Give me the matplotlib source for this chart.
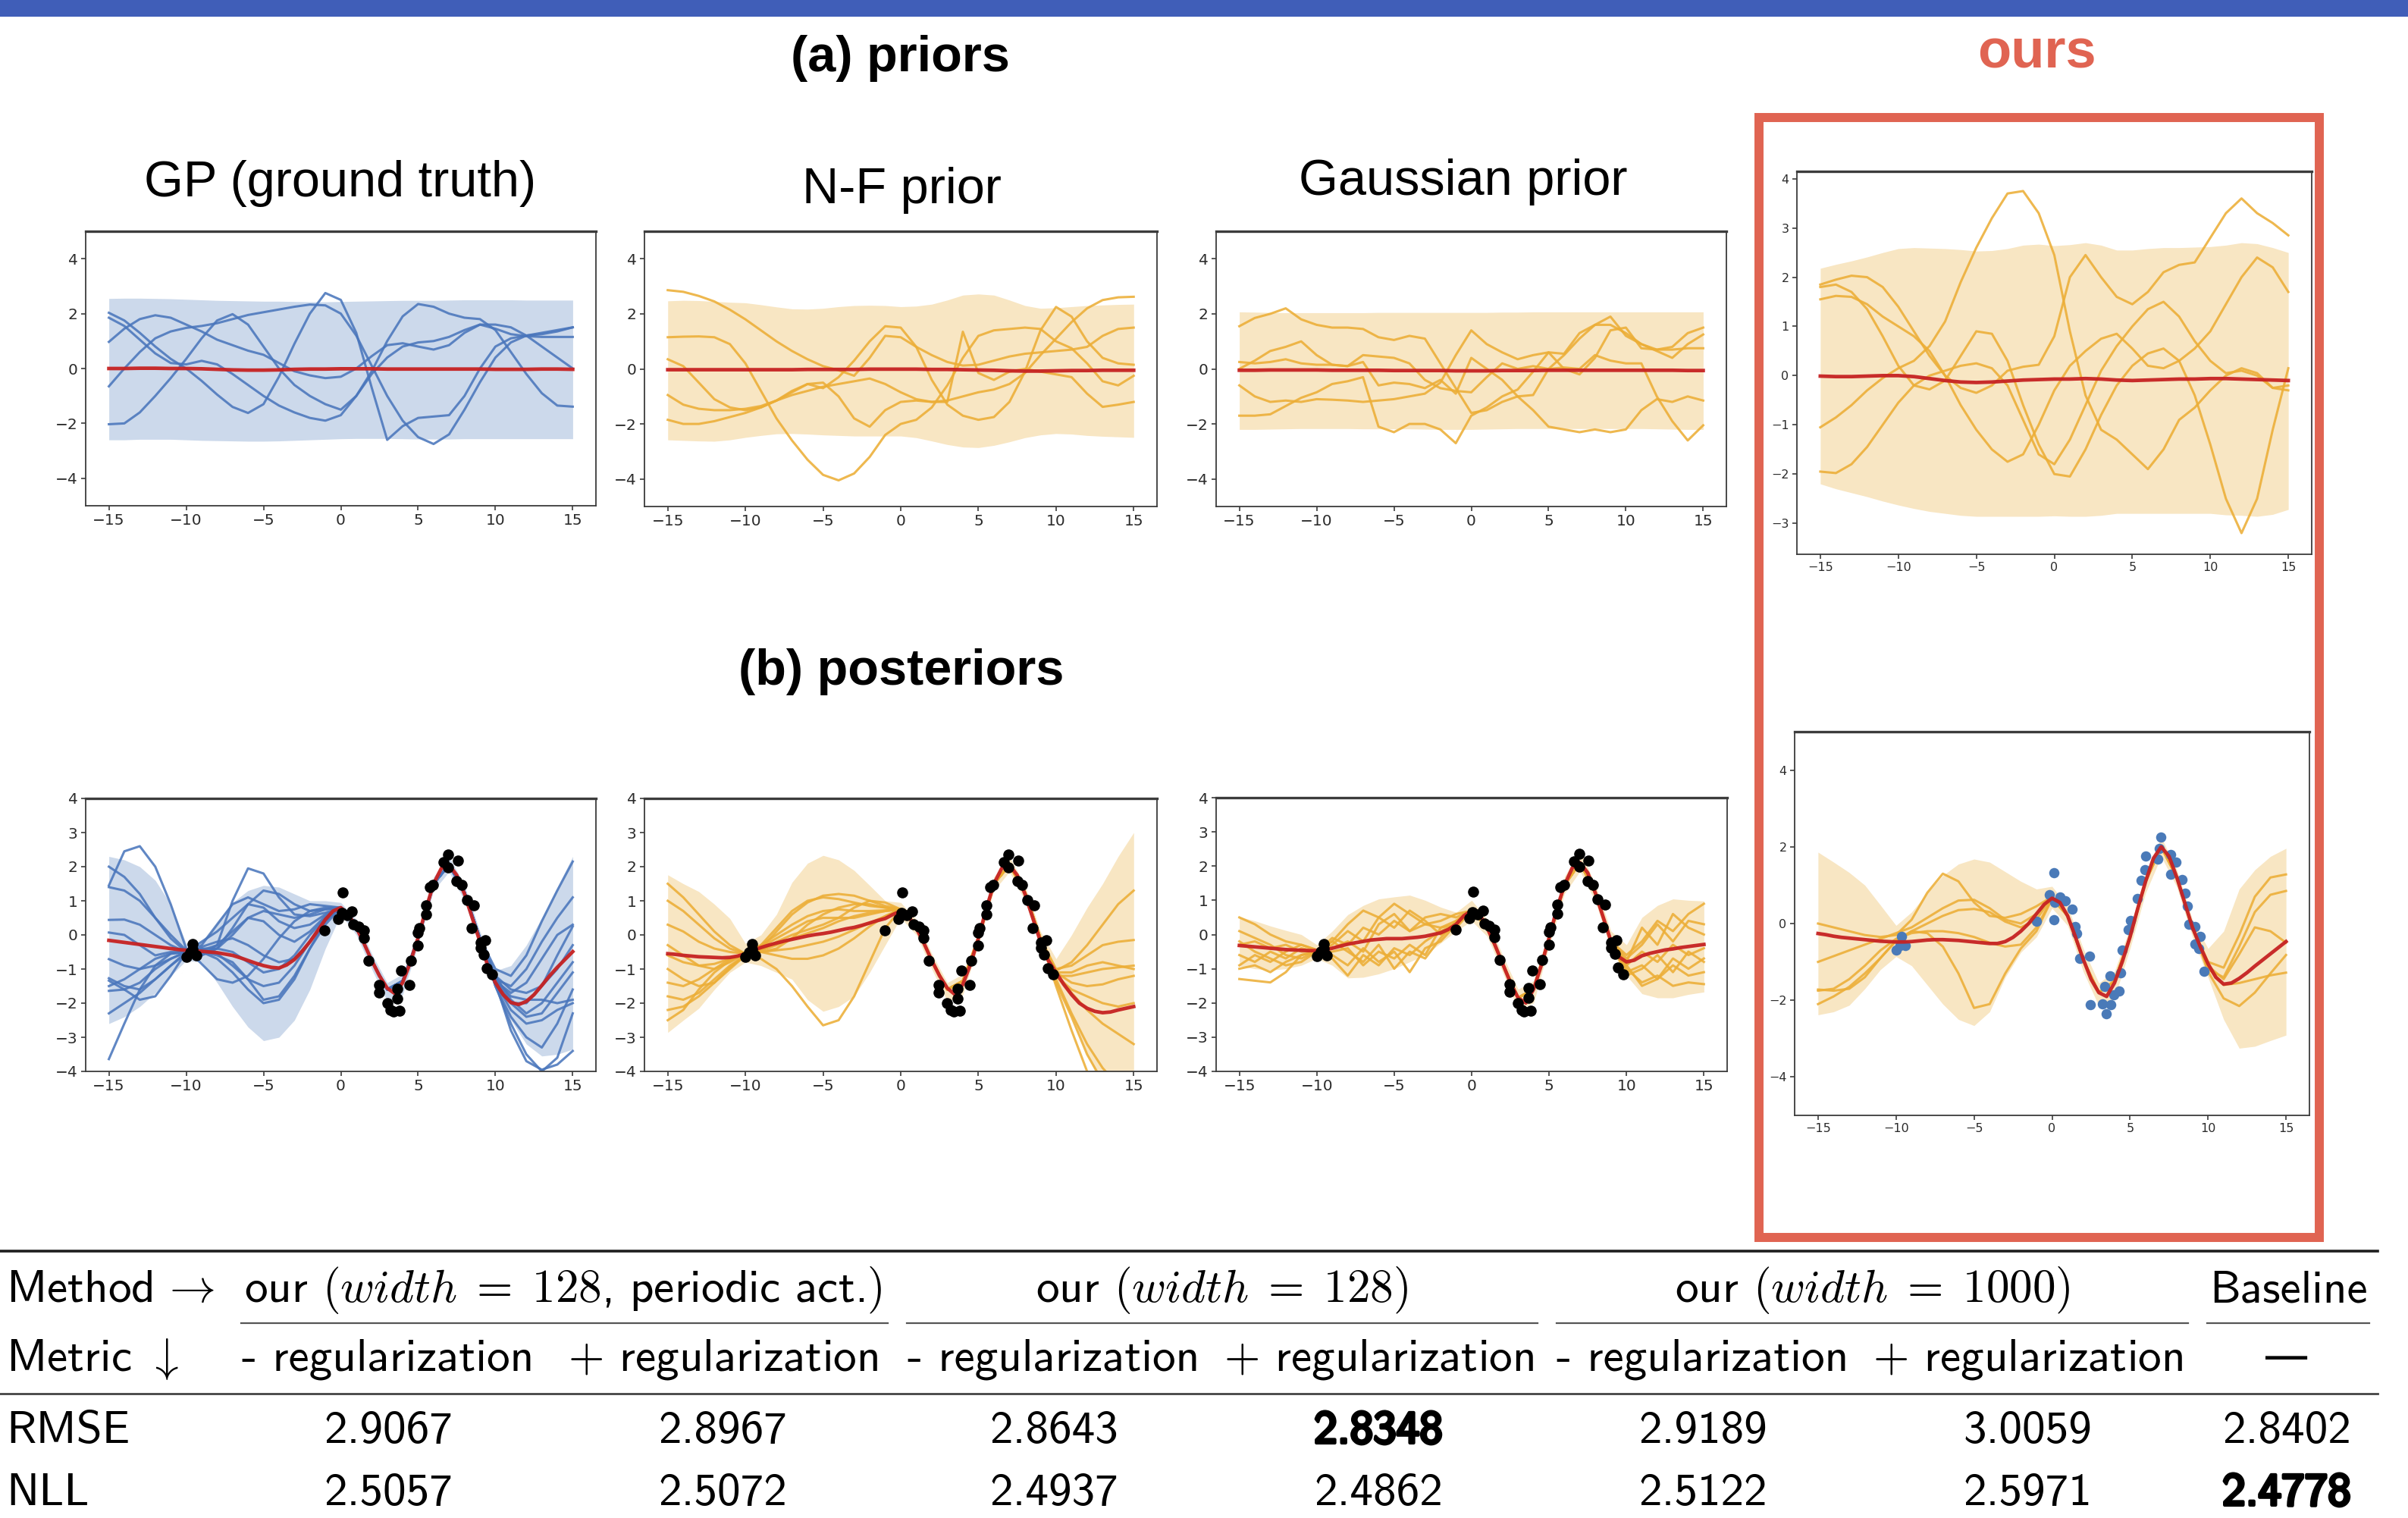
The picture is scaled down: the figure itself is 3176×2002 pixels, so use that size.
import matplotlib.pyplot as plt
import matplotlib.patheffects as pe
from matplotlib.lines import Line2D
from matplotlib.patches import Rectangle
import numpy as np

plt.rcParams['mathtext.fontset'] = 'cm'

# Canvas size in pixels
W, H = 3176, 2002

# x positions: samples / bands use a step of 1, posterior means a step of 0.5
x_grid = np.arange(-15, 16)
x_fine = np.arange(-15, 15.5, 0.5)

# ---------------- (a) priors ----------------
gp_prior_mean = [0.0, 0.0, 0.01, 0.01, 0.0, 0.0, -0.01, -0.03, -0.05, -0.06, -0.06, -0.05, -0.03, -0.02, -0.02, -0.01,
                 -0.01, -0.01, -0.02, -0.02, -0.02, -0.02, -0.02, -0.02, -0.02, -0.03, -0.03, -0.03, -0.02, -0.02, -0.03]
gp_prior_hi = [2.55, 2.56, 2.56, 2.55, 2.54, 2.52, 2.5, 2.48, 2.47, 2.46, 2.45, 2.45, 2.44, 2.43, 2.43, 2.44,
               2.45, 2.46, 2.47, 2.48, 2.48, 2.48, 2.49, 2.5, 2.5, 2.5, 2.5, 2.49, 2.49, 2.49, 2.49]
gp_prior_lo = [-2.6, -2.6, -2.58, -2.58, -2.58, -2.6, -2.62, -2.63, -2.64, -2.65, -2.65, -2.64, -2.62, -2.6, -2.58, -2.56,
               -2.55, -2.55, -2.55, -2.56, -2.57, -2.57, -2.57, -2.56, -2.56, -2.56, -2.56, -2.56, -2.56, -2.56, -2.56]
gp_prior_samples = [
    [2.03, 1.75, 1.3, 0.8, 0.35, 0.0, -0.45, -0.95, -1.4, -1.62, -1.3, -0.3, 0.9, 2.0, 2.75, 2.5,
     1.3, -0.7, -2.6, -2.1, -1.8, -1.75, -1.7, -1.0, 0.0, 0.8, 1.1, 1.2, 1.25, 1.35, 1.5],
    [1.85, 1.55, 1.05, 0.55, 0.2, 0.15, 0.28, 0.15, -0.2, -0.6, -1.0, -1.35, -1.6, -1.8, -1.9, -1.7,
     -1.0, -0.1, 1.0, 1.9, 2.35, 2.25, 2.0, 1.85, 1.8, 1.4, 0.6, -0.2, -0.9, -1.35, -1.39],
    [0.97, 1.45, 1.8, 1.94, 1.85, 1.6, 1.35, 1.05, 0.85, 0.65, 0.5, 0.2, -0.1, -0.25, -0.35, -0.3,
     0.0, 0.45, 0.85, 0.92, 0.8, 0.69, 0.85, 1.3, 1.6, 1.45, 1.25, 1.18, 1.15, 1.15, 1.15],
    [-0.65, 0.0, 0.6, 1.1, 1.35, 1.48, 1.55, 1.65, 1.8, 1.95, 2.05, 2.15, 2.25, 2.33, 2.3, 2.0,
     1.2, 0.1, -1.0, -1.9, -2.5, -2.75, -2.4, -1.5, -0.5, 0.4, 0.95, 1.2, 1.3, 1.4, 1.5],
    [-2.03, -2.0, -1.6, -1.0, -0.35, 0.35, 1.1, 1.75, 1.98, 1.6, 0.8, 0.0, -0.6, -1.0, -1.3, -1.5,
     -1.0, -0.2, 0.4, 0.8, 0.95, 1.0, 1.15, 1.4, 1.6, 1.6, 1.5, 1.2, 0.8, 0.4, 0.0],
]

nf_prior_mean = [-0.03, -0.03, -0.03, -0.03, -0.03, -0.03, -0.03, -0.03, -0.03, -0.02, -0.02, -0.02, -0.02, -0.01, -0.01, -0.01,
                 -0.01, -0.02, -0.02, -0.03, -0.04, -0.05, -0.07, -0.08, -0.08, -0.07, -0.06, -0.06, -0.05, -0.05, -0.05]
nf_prior_hi = [2.47, 2.49, 2.48, 2.45, 2.42, 2.4, 2.33, 2.25, 2.18, 2.17, 2.2, 2.26, 2.3, 2.31, 2.3, 2.26,
               2.28, 2.35, 2.5, 2.68, 2.72, 2.68, 2.5, 2.3, 2.2, 2.22, 2.26, 2.3, 2.32, 2.34, 2.35]
nf_prior_lo = [-2.58, -2.6, -2.62, -2.63, -2.58, -2.49, -2.42, -2.36, -2.35, -2.37, -2.4, -2.42, -2.44, -2.44, -2.44, -2.44,
               -2.5, -2.62, -2.75, -2.84, -2.86, -2.78, -2.65, -2.5, -2.4, -2.35, -2.37, -2.42, -2.45, -2.47, -2.49]
nf_prior_samples = [
    [2.86, 2.8, 2.65, 2.45, 2.15, 1.8, 1.4, 1.0, 0.65, 0.35, 0.1, -0.05, -0.25, 0.4, 1.2, 1.15,
     0.8, 0.5, 0.25, 0.12, 0.15, 0.3, 0.45, 0.55, 0.6, 0.65, 0.7, 0.8, 1.2, 1.45, 1.5],
    [1.15, 1.17, 1.18, 1.15, 0.9, 0.2, -0.8, -1.8, -2.6, -3.3, -3.85, -4.05, -3.8, -3.2, -2.4, -2.0,
     -1.85, -1.4, -0.6, 0.4, 1.2, 1.4, 1.45, 1.5, 1.45, 1.0, 0.75, 0.2, -0.45, -0.6, -0.25],
    [0.35, 0.1, -0.5, -1.1, -1.4, -1.5, -1.4, -1.15, -0.8, -0.55, -0.5, -1.0, -1.8, -2.1, -1.5, -1.2,
     -1.15, -1.2, -1.2, 1.35, -0.15, -0.4, -0.1, 0.0, -0.1, -0.2, -0.3, -0.9, -1.38, -1.3, -1.2],
    [-0.95, -1.3, -1.45, -1.5, -1.5, -1.45, -1.35, -1.15, -0.95, -0.8, -0.65, -0.55, -0.45, -0.35, -0.55, -0.85,
     -1.1, -1.2, -1.15, -1.0, -0.85, -0.75, -0.55, -0.15, 0.5, 1.1, 1.7, 2.2, 2.5, 2.6, 2.62],
    [-1.85, -2.0, -2.0, -1.9, -1.75, -1.6, -1.4, -1.15, -0.85, -0.55, -0.7, -0.3, 0.3, 1.0, 1.55, 1.5,
     0.8, -0.4, -1.3, -1.7, -1.85, -1.75, -1.2, -0.1, 1.4, 2.25, 1.9, 1.0, 0.4, 0.2, 0.15],
]

gauss_prior_mean = [-0.05, -0.05, -0.04, -0.04, -0.04, -0.04, -0.05, -0.05, -0.05, -0.05, -0.06, -0.06, -0.06, -0.06, -0.07, -0.07,
                    -0.07, -0.06, -0.06, -0.06, -0.05, -0.05, -0.05, -0.05, -0.05, -0.05, -0.05, -0.05, -0.05, -0.06, -0.06]
gauss_prior_hi = [2.07, 2.06, 2.05, 2.04, 2.04, 2.04, 2.04, 2.04, 2.04, 2.05, 2.05, 2.05, 2.05, 2.05, 2.05, 2.05,
                  2.05, 2.06, 2.06, 2.07, 2.07, 2.07, 2.07, 2.07, 2.07, 2.07, 2.07, 2.07, 2.07, 2.07, 2.07]
gauss_prior_lo = [-2.2, -2.2, -2.19, -2.18, -2.17, -2.17, -2.17, -2.17, -2.18, -2.18, -2.18, -2.18, -2.19, -2.2, -2.2, -2.2,
                  -2.19, -2.18, -2.17, -2.17, -2.17, -2.17, -2.17, -2.17, -2.17, -2.17, -2.17, -2.18, -2.19, -2.2, -2.2]
gauss_prior_samples = [
    [1.55, 1.85, 2.0, 2.2, 1.8, 1.6, 1.5, 1.5, 1.45, 1.15, 1.05, 1.2, 1.1, 0.2, -0.7, -1.6,
     -1.5, -1.2, -1.0, -0.95, 0.0, 0.5, 1.1, 1.6, 1.9, 1.2, 0.9, 0.65, 0.4, 0.9, 1.25],
    [0.25, 0.2, 0.25, 0.35, 0.2, 0.15, 0.15, 0.1, 0.5, 0.45, 0.4, 0.2, -0.4, -0.7, -0.8, -0.85,
     -0.3, 0.2, 0.0, 0.1, 0.0, 0.05, 0.0, 0.5, 0.3, 0.2, 0.2, -1.0, -1.9, -2.6, -2.05],
    [-0.6, -1.0, -1.2, -1.15, -1.2, -1.1, -1.12, -1.15, -1.2, -1.15, -1.1, -1.0, -0.9, -0.5, 0.5, 1.4,
     0.9, 0.6, 0.35, 0.5, 0.6, 0.55, 1.3, 1.6, 1.6, 1.3, 0.9, 0.7, 0.8, 1.3, 1.5],
    [-1.7, -1.7, -1.65, -1.35, -1.05, -0.85, -0.55, -0.45, -0.3, -2.1, -2.3, -2.0, -2.0, -2.2, -2.7, -1.7,
     -1.4, -1.0, -0.75, -0.1, 0.6, 0.0, -0.2, 0.4, 1.4, 1.5, 0.75, 0.7, 0.7, 0.75, 0.75],
    [0.0, 0.3, 0.65, 0.8, 1.0, 0.5, 0.15, 0.1, 0.25, -0.6, -0.5, -0.55, -0.7, -0.4, -0.9, 0.4,
     0.0, -0.4, -1.0, -1.5, -2.1, -2.2, -2.3, -2.2, -2.3, -2.2, -1.5, -1.1, -1.2, -1.0, -1.15],
]

ours_prior_mean = [-0.01, -0.02, -0.02, -0.01, 0.0, 0.0, -0.02, -0.06, -0.1, -0.13, -0.14, -0.13, -0.11, -0.09, -0.08, -0.07,
                   -0.07, -0.06, -0.07, -0.09, -0.1, -0.09, -0.08, -0.07, -0.07, -0.06, -0.06, -0.07, -0.08, -0.09, -0.1]
ours_prior_hi = [2.18, 2.26, 2.33, 2.41, 2.5, 2.58, 2.6, 2.59, 2.58, 2.56, 2.53, 2.54, 2.58, 2.65, 2.67, 2.64,
                 2.66, 2.7, 2.65, 2.55, 2.55, 2.58, 2.6, 2.6, 2.61, 2.62, 2.65, 2.7, 2.68, 2.6, 2.5]
ours_prior_lo = [-2.2, -2.3, -2.38, -2.46, -2.55, -2.63, -2.7, -2.76, -2.8, -2.84, -2.86, -2.86, -2.86, -2.86, -2.86, -2.85,
                 -2.86, -2.86, -2.84, -2.8, -2.8, -2.8, -2.8, -2.8, -2.8, -2.8, -2.83, -2.84, -2.86, -2.82, -2.72]
ours_prior_samples = [
    [-1.05, -0.85, -0.6, -0.3, -0.05, 0.15, 0.3, 0.6, 1.1, 1.9, 2.6, 3.2, 3.7, 3.75, 3.3, 2.45,
     0.9, -0.4, -1.1, -1.3, -1.6, -1.9, -1.5, -0.9, -0.65, -0.3, 0.0, 0.15, 0.05, -0.25, -0.2],
    [1.85, 1.95, 2.03, 2.0, 1.8, 1.4, 0.9, 0.4, 0.0, -0.25, -0.35, -0.2, 0.1, 0.18, 0.22, 0.8,
     2.0, 2.45, 2.0, 1.6, 1.45, 1.7, 2.1, 2.25, 2.3, 2.8, 3.3, 3.6, 3.3, 3.1, 2.85],
    [1.8, 1.85, 1.7, 1.35, 0.8, 0.2, -0.2, -0.28, -0.1, 0.4, 0.9, 0.85, 0.3, -0.6, -1.4, -2.0,
     -2.05, -1.5, -0.8, -0.2, 0.2, 0.45, 0.55, 0.3, -0.4, -1.4, -2.5, -3.2, -2.5, -1.1, 0.15],
    [1.55, 1.62, 1.6, 1.45, 1.2, 1.0, 0.8, 0.5, 0.0, -0.6, -1.1, -1.5, -1.75, -1.6, -1.0, -0.3,
     0.2, 0.5, 0.75, 0.85, 0.55, 0.2, 0.15, 0.3, 0.55, 0.9, 1.45, 2.0, 2.4, 2.2, 1.7],
    [-1.95, -1.98, -1.8, -1.45, -1.0, -0.55, -0.2, 0.0, 0.1, 0.2, 0.25, 0.15, -0.2, -0.9, -1.6, -1.8,
     -1.3, -0.6, 0.1, 0.6, 1.0, 1.35, 1.5, 1.2, 0.7, 0.3, 0.05, 0.1, 0.0, -0.25, -0.3],
]

# ---------------- (b) posteriors ----------------
# observed points (black) shared by the first three posterior panels
obs_x = [-10.0, -9.57, -9.57, -9.35, -9.75, -1.04, 0.12, -0.16, 0.06, 0.4, 0.71, 0.82, 1.15, 1.48, 1.48, 1.8,
         2.46, 2.46, 3.0, 3.23, 3.67, 3.67, 3.9, 3.8, 4.43, 4.54, 4.98, 4.98, 5.09, 5.53, 5.53, 5.74,
         5.96, 6.62, 6.95, 6.95, 7.56, 7.5, 7.83, 8.15, 8.6, 8.48, 9.03, 9.36, 9.03, 9.25, 9.46, 9.79, 3.4]
obs_y = [-0.64, -0.27, -0.42, -0.6, -0.5, 0.14, 1.25, 0.47, 0.65, 0.58, 0.69, 0.32, 0.25, 0.14, -0.08, -0.75,
         -1.46, -1.68, -2.0, -2.2, -1.57, -1.86, -1.05, -2.23, -1.46, -0.75, -0.31, 0.07, 0.21, 0.61, 0.87, 1.39,
         1.46, 2.13, 2.35, 1.98, 2.17, 1.57, 1.46, 1.02, 0.87, 0.21, -0.23, -0.16, -0.38, -0.57, -0.97, -1.16, -2.25]
# observed points (blue) in our posterior panel
ours_obs_x = [-10.0, -9.64, -9.4, -9.76, -1.0, 0.12, 0.12, -0.19, 0.17, 0.52, 0.83, 1.28, 1.47, 1.58, 1.75, 2.41,
              2.46, 3.24, 3.4, 3.47, 3.71, 3.78, 3.95, 4.3, 4.42, 4.49, 4.89, 5.01, 5.48, 5.72, 5.95, 6.0,
              6.78, 6.97, 6.9, 7.6, 7.96, 7.6, 8.32, 8.55, 8.67, 8.79, 9.14, 9.5, 9.14, 9.38, 9.73]
ours_obs_y = [-0.69, -0.33, -0.58, -0.58, 0.06, 1.33, 0.09, 0.76, 0.55, 0.69, 0.59, 0.37, -0.08, -0.26, -0.9, -0.85,
              -2.12, -2.1, -1.64, -2.35, -1.36, -2.12, -1.85, -1.75, -1.29, -0.69, -0.16, 0.07, 0.66, 1.12, 1.4, 1.75,
              1.68, 2.25, 1.96, 1.79, 1.61, 1.29, 1.15, 0.8, 0.45, -0.01, -0.08, -0.33, -0.54, -0.65, -1.25]

gp_post_mean = [-0.16, -0.19, -0.22, -0.25, -0.28, -0.31, -0.34, -0.37, -0.4, -0.43,
                -0.45, -0.47, -0.48, -0.5, -0.52, -0.56, -0.6, -0.67, -0.75, -0.83,
                -0.9, -0.95, -0.97, -0.88, -0.72, -0.48, -0.2, 0.12, 0.45, 0.7,
                0.8, 0.6, 0.22, -0.25, -0.75, -1.2, -1.56, -1.72, -1.4, -0.8,
                -0.08, 0.75, 1.5, 1.95, 2.05, 1.75, 1.2, 0.5, -0.2, -0.9,
                -1.4, -1.75, -1.98, -2.04, -1.95, -1.75, -1.48, -1.2, -0.95, -0.72, -0.49]
gp_post_hi = [2.3, 2.2, 2.0, 1.6, 0.9, -0.25, -0.2, 0.4, 0.95, 1.3, 1.45, 1.4, 1.2, 1.0, 1.0, 0.95,
              0.45, -0.55, -1.4, -1.15, 0.1, 1.7, 2.3, 1.45, 0.1, -1.05, -0.9, -0.3, 0.5, 1.4, 2.3]
gp_post_lo = [-2.6, -2.4, -2.1, -1.7, -1.2, -0.75, -0.8, -1.4, -2.1, -2.7, -3.1, -3.0, -2.5, -1.6, -0.4, 0.6,
              0.0, -1.0, -1.95, -1.75, -0.3, 1.3, 1.85, 1.0, -0.35, -1.6, -2.5, -3.2, -3.55, -3.5, -3.35]
gp_post_samples = [
    [-3.64, -2.6, -1.6, -0.9, -0.55, -0.5, -0.3, 0.3, 0.9, 1.1, 0.9, 0.7, 0.75, 0.9, 0.85, 0.8,
     0.25, -0.75, -1.6, -1.35, -0.1, 1.5, 2.05, 1.25, -0.1, -1.4, -2.8, -3.7, -3.95, -3.8, -3.4],
    [1.45, 2.45, 2.6, 2.0, 0.9, -0.4, -0.85, -1.3, -1.4, -1.2, -0.7, -0.1, 0.4, 0.7, 0.75, 0.8,
     0.25, -0.75, -1.6, -1.35, -0.1, 1.5, 2.05, 1.25, -0.1, -1.0, -1.2, -0.6, 0.4, 1.3, 2.15],
    [2.0, 1.7, 1.2, 0.5, -0.1, -0.5, -0.6, -0.3, 1.0, 1.95, 1.8, 1.1, 0.6, 0.55, 0.65, 0.8,
     0.25, -0.75, -1.6, -1.35, -0.1, 1.5, 2.05, 1.25, -0.1, -1.2, -1.9, -2.3, -2.0, -1.4, -0.8],
    [1.4, 1.3, 1.0, 0.5, 0.0, -0.45, -0.6, -0.4, 0.2, 0.9, 1.3, 1.2, 0.9, 0.7, 0.8, 0.8,
     0.25, -0.75, -1.6, -1.35, -0.1, 1.5, 2.05, 1.25, -0.1, -1.3, -1.5, -1.0, -0.2, 0.5, 1.1],
    [0.44, 0.45, 0.3, 0.0, -0.3, -0.5, -0.55, -0.4, 0.0, 0.5, 0.7, 0.6, 0.5, 0.6, 0.75, 0.8,
     0.25, -0.75, -1.6, -1.35, -0.1, 1.5, 2.05, 1.25, -0.1, -1.4, -2.2, -2.6, -2.5, -2.2, -2.0],
    [0.07, 0.0, -0.3, -0.6, -0.5, -0.5, -0.5, -0.6, -0.8, -1.3, -1.9, -1.8, -1.2, -0.4, 0.3, 0.8,
     0.25, -0.75, -1.6, -1.35, -0.1, 1.5, 2.05, 1.25, -0.1, -1.2, -1.6, -1.7, -1.5, -1.0, -0.3],
    [-0.71, -0.9, -1.0, -0.9, -0.7, -0.5, -0.5, -0.7, -1.1, -1.6, -2.0, -1.9, -1.3, -0.4, 0.4, 0.8,
     0.25, -0.75, -1.6, -1.35, -0.1, 1.5, 2.05, 1.25, -0.1, -1.5, -2.4, -3.0, -3.3, -2.6, -1.6],
    [-1.27, -1.5, -1.6, -1.3, -0.9, -0.5, -0.4, -0.55, -0.9, -1.3, -1.5, -1.4, -0.9, -0.2, 0.5, 0.8,
     0.25, -0.75, -1.6, -1.35, -0.1, 1.5, 2.05, 1.25, -0.1, -1.35, -1.7, -1.4, -0.7, 0.0, 0.3],
    [-1.34, -1.6, -1.9, -1.8, -1.2, -0.5, -0.2, 0.1, 0.5, 0.9, 0.8, 0.4, 0.2, 0.3, 0.6, 0.8,
     0.25, -0.75, -1.6, -1.35, -0.1, 1.5, 2.05, 1.25, -0.1, -1.3, -2.0, -2.4, -2.3, -1.7, -1.1],
    [-1.64, -1.6, -1.4, -1.0, -0.7, -0.5, -0.35, -0.2, -0.1, -0.3, -0.6, -0.8, -0.7, -0.2, 0.4, 0.8,
     0.25, -0.75, -1.6, -1.35, -0.1, 1.5, 2.05, 1.25, -0.1, -1.4, -2.0, -2.0, -1.5, -0.6, 0.25],
    [-2.3, -2.0, -1.7, -1.3, -0.9, -0.55, -0.4, -0.4, -0.5, -0.8, -1.1, -1.0, -0.6, 0.0, 0.5, 0.8,
     0.25, -0.75, -1.6, -1.35, -0.1, 1.5, 2.05, 1.25, -0.1, -1.5, -2.6, -3.5, -4.0, -3.6, -2.3],
    [-1.5, -1.3, -1.0, -0.7, -0.55, -0.5, -0.45, -0.3, 0.1, 0.5, 0.4, 0.0, -0.2, 0.1, 0.55, 0.8,
     0.25, -0.75, -1.6, -1.35, -0.1, 1.5, 2.05, 1.25, -0.1, -1.3, -1.8, -1.9, -1.9, -2.0, -1.9],
]

nf_post_mean = [-0.55, -0.57, -0.6, -0.62, -0.64, -0.65, -0.66, -0.67, -0.66, -0.62,
                -0.55, -0.45, -0.37, -0.3, -0.24, -0.18, -0.13, -0.08, -0.03, 0.01,
                0.04, 0.08, 0.13, 0.18, 0.22, 0.28, 0.35, 0.42, 0.48, 0.6,
                0.7, 0.55, 0.2, -0.25, -0.75, -1.2, -1.56, -1.75, -1.45, -0.85,
                -0.1, 0.75, 1.5, 1.95, 2.05, 1.75, 1.2, 0.5, -0.2, -0.75,
                -1.1, -1.45, -1.75, -2.0, -2.15, -2.24, -2.28, -2.26, -2.2, -2.15, -2.1]
nf_post_hi = [1.76, 1.5, 1.27, 0.9, 0.48, -0.25, 0.0, 0.6, 1.54, 2.1, 2.33, 2.2, 1.89, 1.45, 1.0, 0.95,
              0.45, -0.55, -1.4, -1.15, 0.1, 1.7, 2.3, 1.45, 0.1, -0.7, 0.0, 0.8, 1.5, 2.3, 3.0]
nf_post_lo = [-2.86, -2.5, -2.15, -1.6, -1.1, -0.8, -0.9, -1.1, -1.3, -1.9, -2.24, -2.1, -1.8, -1.1, -0.3, 0.5,
              0.0, -1.0, -1.95, -1.75, -0.3, 1.3, 1.85, 1.0, -0.35, -1.3, -2.3, -3.5, -4.5, -5.0, -5.0]
nf_post_samples = [
    [1.5, 1.1, 0.6, 0.1, -0.3, -0.55, -0.4, 0.1, 0.6, 0.95, 1.15, 1.2, 1.15, 1.0, 0.85, 0.75,
     0.25, -0.75, -1.6, -1.35, -0.1, 1.5, 2.05, 1.25, -0.1, -1.05, -0.8, -0.3, 0.3, 0.9, 1.3],
    [0.3, 0.1, -0.2, -0.4, -0.5, -0.55, -0.3, 0.2, 0.7, 1.0, 1.1, 1.05, 0.95, 0.85, 0.8, 0.75,
     0.25, -0.75, -1.6, -1.35, -0.1, 1.5, 2.05, 1.25, -0.1, -1.1, -1.1, -0.9, -0.8, -0.9, -1.0],
    [-0.3, -0.6, -0.9, -1.0, -0.8, -0.55, -0.3, 0.0, 0.3, 0.55, 0.7, 0.75, 0.7, 0.7, 0.72, 0.75,
     0.25, -0.75, -1.6, -1.35, -0.1, 1.5, 2.05, 1.25, -0.1, -1.1, -1.4, -1.5, -1.45, -1.3, -1.2],
    [-1.0, -1.3, -1.5, -1.4, -1.0, -0.6, -0.5, -0.45, -0.4, -0.3, -0.2, -0.05, 0.15, 0.35, 0.55, 0.75,
     0.25, -0.75, -1.6, -1.35, -0.1, 1.5, 2.05, 1.25, -0.1, -1.3, -2.3, -3.2, -3.9, -4.4, -4.6],
    [-1.8, -1.9, -1.7, -1.3, -0.9, -0.6, -0.7, -1.0, -1.5, -2.1, -2.65, -2.5, -1.8, -0.8, 0.2, 0.75,
     0.25, -0.75, -1.6, -1.35, -0.1, 1.5, 2.05, 1.25, -0.1, -1.2, -1.6, -1.8, -2.0, -2.1, -2.0],
    [-2.2, -2.1, -1.8, -1.4, -0.95, -0.6, -0.5, -0.6, -0.7, -0.7, -0.6, -0.4, -0.1, 0.25, 0.55, 0.75,
     0.25, -0.75, -1.6, -1.35, -0.1, 1.5, 2.05, 1.25, -0.1, -1.5, -2.8, -4.0, -4.8, -5.0, -5.0],
    [-2.5, -2.2, -1.6, -1.1, -0.75, -0.55, -0.35, -0.1, 0.15, 0.4, 0.5, 0.5, 0.5, 0.6, 0.7, 0.75,
     0.25, -0.75, -1.6, -1.35, -0.1, 1.5, 2.05, 1.25, -0.1, -1.2, -1.7, -2.2, -2.6, -2.9, -3.2],
    [-0.6, -0.8, -0.9, -0.85, -0.7, -0.55, -0.45, -0.3, -0.1, 0.05, 0.2, 0.4, 0.55, 0.65, 0.7, 0.75,
     0.25, -0.75, -1.6, -1.35, -0.1, 1.5, 2.05, 1.25, -0.1, -1.0, -0.9, -0.6, -0.3, -0.2, -0.15],
    [-1.4, -1.5, -1.3, -1.0, -0.7, -0.55, -0.5, -0.4, -0.1, 0.3, 0.6, 0.8, 0.9, 0.9, 0.8, 0.75,
     0.25, -0.75, -1.6, -1.35, -0.1, 1.5, 2.05, 1.25, -0.1, -1.4, -2.4, -3.5, -4.3, -4.6, -4.7],
    [1.0, 0.7, 0.3, -0.1, -0.4, -0.55, -0.45, -0.2, 0.0, 0.15, 0.3, 0.5, 0.8, 1.0, 0.95, 0.75,
     0.25, -0.75, -1.6, -1.35, -0.1, 1.5, 2.05, 1.25, -0.1, -1.2, -1.2, -1.1, -1.0, -0.95, -0.9],
]

gauss_post_mean = [-0.32, -0.34, -0.36, -0.38, -0.4, -0.42, -0.44, -0.45, -0.46, -0.47,
                   -0.47, -0.45, -0.4, -0.34, -0.28, -0.24, -0.2, -0.16, -0.14, -0.12,
                   -0.12, -0.12, -0.1, -0.08, -0.05, 0.0, 0.05, 0.15, 0.3, 0.55,
                   0.7, 0.6, 0.2, -0.3, -0.85, -1.4, -1.85, -2.0, -1.6, -0.9,
                   -0.1, 0.75, 1.45, 1.95, 2.1, 1.8, 1.2, 0.5, -0.2, -0.65,
                   -0.8, -0.75, -0.62, -0.55, -0.5, -0.45, -0.42, -0.38, -0.35, -0.32, -0.29]
gauss_post_hi = [0.52, 0.4, 0.25, 0.12, 0.0, -0.3, 0.1, 0.58, 0.85, 1.04, 1.1, 1.15, 1.0, 0.8, 0.65, 1.0,
                 0.45, -0.6, -1.6, -1.35, 0.1, 1.7, 2.45, 1.45, 0.1, -0.3, 0.5, 0.85, 1.04, 1.0, 0.98]
gauss_post_lo = [-0.92, -1.0, -1.04, -1.0, -0.9, -0.7, -0.9, -1.27, -1.25, -1.15, -1.0, -0.8, -0.6, -0.25, 0.1, 0.4,
                 -0.05, -1.1, -2.2, -2.0, -0.35, 1.2, 1.85, 0.95, -0.45, -1.2, -1.73, -1.85, -1.85, -1.75, -1.68]
gauss_post_samples = [
    [0.5, 0.3, 0.0, -0.2, -0.3, -0.45, -0.2, 0.3, 0.7, 0.5, 0.9, 0.6, 0.3, 0.4, 0.6, 0.7,
     0.2, -0.85, -1.85, -1.6, -0.1, 1.45, 2.1, 1.2, -0.2, -0.6, -0.2, 0.4, 0.1, 0.6, 0.9],
    [-0.3, -0.2, -0.4, -0.3, -0.5, -0.5, -0.1, -0.3, 0.2, 0.0, 0.4, 0.1, 0.3, 0.2, 0.4, 0.7,
     0.2, -0.85, -1.85, -1.6, -0.1, 1.45, 2.1, 1.2, -0.2, -0.9, -0.5, -0.8, -0.3, -0.6, -0.4],
    [-1.3, -1.35, -1.4, -1.1, -0.6, -0.5, -0.7, -1.2, -0.6, -0.9, -0.4, -0.6, -0.2, 0.1, 0.3, 0.7,
     0.2, -0.85, -1.85, -1.6, -0.1, 1.45, 2.1, 1.2, -0.2, -1.0, -1.4, -1.2, -1.5, -1.4, -1.45],
    [-0.6, -0.8, -0.5, -0.7, -0.4, -0.5, -0.3, 0.1, -0.2, 0.5, 0.2, 0.7, 0.4, 0.0, 0.2, 0.7,
     0.2, -0.85, -1.85, -1.6, -0.1, 1.45, 2.1, 1.2, -0.2, -0.8, 0.2, -0.3, 0.6, 0.2, 0.0],
    [0.1, -0.1, -0.3, -0.6, -0.7, -0.5, -0.6, -0.9, -0.4, -0.8, -0.5, -1.1, -0.4, -0.2, 0.3, 0.7,
     0.2, -0.85, -1.85, -1.6, -0.1, 1.45, 2.1, 1.2, -0.2, -1.1, -0.9, -1.3, -0.7, -1.0, -0.7],
    [-0.9, -0.6, -0.8, -0.5, -0.3, -0.45, -0.4, -0.2, -0.5, 0.3, 0.6, 0.1, 0.5, 0.6, 0.5, 0.7,
     0.2, -0.85, -1.85, -1.6, -0.1, 1.45, 2.1, 1.2, -0.2, -0.7, -0.3, 0.3, -0.2, 0.4, 0.3],
    [-0.2, -0.5, -0.7, -0.9, -0.8, -0.5, -0.2, -0.5, -0.8, -0.3, -1.0, -0.5, -0.7, -0.1, 0.4, 0.7,
     0.2, -0.85, -1.85, -1.6, -0.1, 1.45, 2.1, 1.2, -0.2, -1.2, -1.0, -0.6, -1.1, -0.5, -0.8],
    [-1.0, -0.9, -1.1, -0.8, -0.6, -0.5, -0.5, -0.4, -0.9, -0.5, -0.7, -0.3, -0.6, 0.2, 0.3, 0.7,
     0.2, -0.85, -1.85, -1.6, -0.1, 1.45, 2.1, 1.2, -0.2, -0.9, -1.5, -1.3, -0.9, -1.2, -1.1],
]

ours_post_mean = [-0.26, -0.29, -0.33, -0.36, -0.38, -0.4, -0.42, -0.44, -0.46, -0.47,
                  -0.48, -0.48, -0.47, -0.45, -0.43, -0.42, -0.42, -0.43, -0.44, -0.46,
                  -0.48, -0.5, -0.52, -0.52, -0.47, -0.36, -0.2, 0.0, 0.25, 0.5,
                  0.66, 0.55, 0.2, -0.35, -0.93, -1.45, -1.8, -1.9, -1.55, -1.0,
                  -0.35, 0.4, 1.1, 1.7, 2.0, 1.75, 1.2, 0.55, -0.1, -0.6,
                  -1.05, -1.4, -1.58, -1.55, -1.43, -1.28, -1.11, -0.95, -0.79, -0.63, -0.47]
ours_post_hi = [1.86, 1.6, 1.33, 1.0, 0.48, -0.05, 0.3, 0.8, 1.25, 1.55, 1.68, 1.6, 1.35, 1.1, 0.9, 0.97,
                0.45, -0.65, -1.55, -1.25, -0.1, 1.3, 2.25, 1.4, 0.1, -0.65, -0.2, 0.9, 1.4, 1.75, 1.96]
ours_post_lo = [-2.38, -2.3, -2.13, -1.7, -1.2, -0.86, -1.1, -1.6, -2.1, -2.5, -2.66, -2.3, -1.4, -0.75, -0.35, 0.4,
                -0.05, -1.25, -2.15, -1.95, -0.65, 0.8, 1.75, 0.95, -0.35, -1.4, -2.5, -3.25, -3.2, -3.05, -2.91]
ours_post_samples = [
    [0.0, -0.1, -0.2, -0.3, -0.35, -0.3, 0.1, 0.8, 1.3, 1.1, 0.55, 0.2, 0.15, 0.25, 0.45, 0.7,
     0.2, -0.95, -1.8, -1.5, -0.35, 1.1, 2.0, 1.2, -0.1, -1.0, -1.15, -0.3, 0.7, 1.2, 1.28],
    [-1.0, -0.85, -0.7, -0.55, -0.4, -0.25, -0.1, 0.15, 0.4, 0.6, 0.62, 0.4, 0.1, 0.0, 0.25, 0.7,
     0.2, -0.95, -1.8, -1.5, -0.35, 1.1, 2.0, 1.2, -0.1, -1.1, -1.45, -0.8, -0.1, -0.2, -0.5],
    [-1.72, -1.75, -1.7, -1.4, -0.9, -0.45, -0.2, 0.0, 0.2, 0.35, 0.38, 0.3, 0.05, -0.1, 0.1, 0.7,
     0.2, -0.95, -1.8, -1.5, -0.35, 1.1, 2.0, 1.2, -0.1, -1.2, -1.4, -0.6, 0.3, 0.75, 0.85],
    [-2.1, -1.9, -1.65, -1.3, -0.9, -0.45, -0.2, -0.25, -0.6, -1.3, -2.2, -2.1, -1.3, -0.65, -0.2, 0.65,
     0.2, -0.95, -1.8, -1.5, -0.35, 1.1, 2.0, 1.2, -0.1, -1.25, -1.95, -2.15, -1.8, -1.3, -0.82],
    [-1.75, -1.7, -1.45, -1.1, -0.7, -0.4, -0.25, -0.2, -0.2, -0.25, -0.35, -0.5, -0.6, -0.55, -0.1, 0.65,
     0.2, -0.95, -1.8, -1.5, -0.35, 1.1, 2.0, 1.2, -0.1, -1.15, -1.6, -1.55, -1.45, -1.35, -1.28],
]

# ---------------- results table ----------------
method_labels = [r'our $(width\;=\;128$, periodic act.$)$', r'our $(width\;=\;128)$',
                 r'our $(width\;=\;1000)$', 'Baseline']
setting_labels = ['- regularization', r'$+$ regularization', '- regularization', r'$+$ regularization',
                  '- regularization', r'$+$ regularization', '\u2014']
metric_names = ['RMSE', 'NLL']
rmse_vals = [2.9067, 2.8967, 2.8643, 2.8348, 2.9189, 3.0059, 2.8402]
nll_vals = [2.5057, 2.5072, 2.4937, 2.4862, 2.5122, 2.5971, 2.4778]

# colours
blue_line, blue_band = '#4A76BC', '#CCD9EB'
orange_line, orange_band = '#ECAE36', '#F8E6C3'
mean_red = '#C62222'
box_red = '#E06452'

# Create a Figure
fig = plt.figure(figsize=(W / 100, H / 100), dpi=100)


def px_axes(left, top, right, bottom):
    return fig.add_axes([left / W, 1 - bottom / H, (right - left) / W, (bottom - top) / H])


def ftext(x, y, s, **kw):
    return fig.text(x / W, 1 - y / H, s, **kw)


def draw_panel(ax, lo, hi, samples, mean_x, mean, line_c, band_c, ylim, yticks, fs=14.5):
    ax.fill_between(x_grid, lo, hi, color=band_c, lw=0, zorder=1)
    for s in samples:
        ax.plot(x_grid, s, color=line_c, lw=2.2, alpha=0.88, zorder=2)
    ax.plot(mean_x, mean, color=mean_red, lw=3.4, alpha=0.95, zorder=3)
    ax.set_xlim(-16.5, 16.5)
    ax.set_ylim(ylim)
    ax.set_xticks([-15, -10, -5, 0, 5, 10, 15])
    ax.set_yticks(yticks)
    ax.tick_params(labelsize=fs, colors='#2b2b2b', length=4, width=1.1)
    for sp in ax.spines.values():
        sp.set_color('#3c3c3c')
        sp.set_linewidth(1.3)
    ax.spines['top'].set_linewidth(2.4)


# Set up the prior Axes
prior_ticks = [-4, -2, 0, 2, 4]
ax = px_axes(113, 305, 786, 667)
draw_panel(ax, gp_prior_lo, gp_prior_hi, gp_prior_samples, x_grid, gp_prior_mean,
           blue_line, blue_band, (-5, 5), prior_ticks)
ax = px_axes(850, 305, 1526, 668)
draw_panel(ax, nf_prior_lo, nf_prior_hi, nf_prior_samples, x_grid, nf_prior_mean,
           orange_line, orange_band, (-5, 5), prior_ticks)
ax = px_axes(1604, 305, 2277, 668)
draw_panel(ax, gauss_prior_lo, gauss_prior_hi, gauss_prior_samples, x_grid, gauss_prior_mean,
           orange_line, orange_band, (-5, 5), prior_ticks)
ax = px_axes(2370, 226, 3049, 731)
draw_panel(ax, ours_prior_lo, ours_prior_hi, ours_prior_samples, x_grid, ours_prior_mean,
           orange_line, orange_band, (-3.63, 4.15), [-3, -2, -1, 0, 1, 2, 3, 4], fs=11.5)

# Set up the posterior Axes
post_ticks = [-4, -3, -2, -1, 0, 1, 2, 3, 4]
ax = px_axes(113, 1053, 786, 1413)
draw_panel(ax, gp_post_lo, gp_post_hi, gp_post_samples, x_fine, gp_post_mean,
           blue_line, blue_band, (-4, 4), post_ticks)
ax.scatter(obs_x, obs_y, s=110, color='black', lw=0, zorder=4)
ax = px_axes(850, 1053, 1526, 1413)
draw_panel(ax, nf_post_lo, nf_post_hi, nf_post_samples, x_fine, nf_post_mean,
           orange_line, orange_band, (-4, 4), post_ticks)
ax.scatter(obs_x, obs_y, s=110, color='black', lw=0, zorder=4)
ax = px_axes(1604, 1052, 2278, 1413)
draw_panel(ax, gauss_post_lo, gauss_post_hi, gauss_post_samples, x_fine, gauss_post_mean,
           orange_line, orange_band, (-4, 4), post_ticks)
ax.scatter(obs_x, obs_y, s=110, color='black', lw=0, zorder=4)
ax = px_axes(2367, 965, 3046, 1471)
draw_panel(ax, ours_post_lo, ours_post_hi, ours_post_samples, x_fine, ours_post_mean,
           orange_line, orange_band, (-5, 5), prior_ticks, fs=11.5)
ax.scatter(ours_obs_x, ours_obs_y, s=95, color='#4A7AB8', lw=0, zorder=2.5)

# Titles
head = dict(family='Liberation Sans', ha='center', va='baseline')
ftext(1187, 94, '(a) priors', fontsize=48, weight='bold', **head)
ftext(1189, 903, '(b) posteriors', fontsize=48, weight='bold', **head)
ftext(2686, 90, 'ours', fontsize=52, weight='bold', color=box_red, **head)
ftext(449, 259, 'GP (ground truth)', fontsize=48, **head)
ftext(1189, 268, 'N-F prior', fontsize=48, **head)
ftext(1930, 257, 'Gaussian prior', fontsize=48, **head)

# Blue bar at the top and red frame round "ours"
fig.add_artist(Rectangle((0, 1 - 22 / H), 1, 22 / H, transform=fig.transFigure,
                         facecolor='#405EB8', edgecolor='none'))
fig.add_artist(Rectangle((2320 / W, 1 - 1632 / H), (3059 - 2320) / W, (1632 - 155) / H,
                         transform=fig.transFigure, fill=False, edgecolor=box_red, lw=8.6, zorder=10))


# Table
def hline(x0, x1, y, lw, color):
    fig.add_artist(Line2D([x0 / W, x1 / W], [1 - y / H, 1 - y / H], transform=fig.transFigure,
                          lw=lw, color=color))


hline(0, 3136, 1650, 2.6, '#1e1e1e')
for x0, x1 in [(318, 1171), (1196, 2028), (2053, 2886), (2911, 3125)]:
    hline(x0, x1, 1745, 1.6, '#555555')
hline(0, 3136, 1838, 2.0, '#444444')

tbl = dict(family=['cmss10', 'DejaVu Sans'], fontsize=44, va='baseline')
method_cx = [743, 1611, 2470, 3018]
col_cx = [512, 953, 1390, 1818, 2246, 2674, 3016]

ftext(8, 1717, r'Method$\,\rightarrow$', ha='left', **tbl)
for cx, label in zip(method_cx, method_labels):
    ftext(cx, 1717, label, ha='center', **tbl)
ftext(8, 1808, r'Metric $\downarrow$', ha='left', **tbl)
for cx, label in zip(col_cx, setting_labels):
    ftext(cx, 1808, label, ha='center', **tbl)

for name, vals, y in zip(metric_names, [rmse_vals, nll_vals], [1903, 1985]):
    ftext(8, y, name, ha='left', **tbl)
    best = int(np.argmin(vals))
    for i, (cx, v) in enumerate(zip(col_cx, vals)):
        t = ftext(cx, y, f'{v:.4f}', ha='center', **tbl)
        if i == best:
            t.set_path_effects([pe.withStroke(linewidth=3, foreground='black')])

fig.savefig('out.png', dpi=100)
